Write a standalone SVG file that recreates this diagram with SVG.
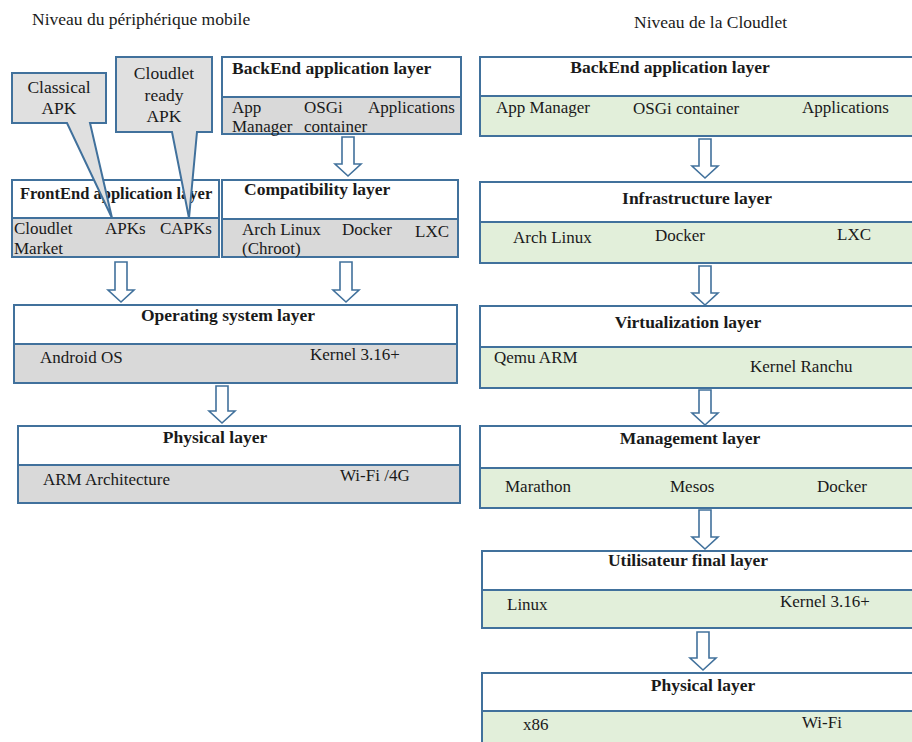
<svg xmlns="http://www.w3.org/2000/svg" width="912" height="742" viewBox="0 0 912 742">
<style>
  text { font-family: "Liberation Serif", "Times New Roman", serif; fill: #1a1a1a; }
  .t { font-size: 17px; }
  .b { font-size: 17.5px; font-weight: bold; }
  .hd { font-size: 17.5px; }
  .box { fill: #ffffff; stroke: #41719c; stroke-width: 2; }
  .gr { fill: #d9d9d9; stroke: #41719c; stroke-width: 2; }
  .gn { fill: #e2efda; stroke: #41719c; stroke-width: 2; }
  .arr { fill: #ffffff; stroke: #41719c; stroke-width: 1.6; }
  .call { fill: #e0e0e0; stroke: #41719c; stroke-width: 2; }
  .c { font-size: 17.5px; text-anchor: middle; }
</style>
<rect width="912" height="742" fill="#ffffff"/>
<text class="hd" x="32" y="25">Niveau du périphérique mobile</text>
<text class="hd" x="634" y="28">Niveau de la Cloudlet</text>

<!-- Left column -->
<g id="left-backend">
  <rect class="box" x="222" y="57" width="239" height="40"/>
  <rect class="gr" x="222" y="97" width="239" height="37"/>
  <text class="b" x="232" y="74">BackEnd application layer</text>
  <text class="t" x="232" y="113">App</text>
  <text class="t" x="232" y="132">Manager</text>
  <text class="t" x="304" y="113">OSGi</text>
  <text class="t" x="304" y="132">container</text>
  <text class="t" x="368" y="113">Applications</text>
</g>
<g id="left-frontend">
  <rect class="box" x="12" y="180" width="207" height="38"/>
  <rect class="gr" x="12" y="218" width="207" height="39"/>
  <text class="b" x="20" y="199" style="font-size:16.5px">FrontEnd application layer</text>
  <text class="t" x="14" y="234">Cloudlet</text>
  <text class="t" x="14" y="254">Market</text>
  <text class="t" x="105" y="234">APKs</text>
  <text class="t" x="160" y="234">CAPKs</text>
</g>
<g id="left-compat">
  <rect class="box" x="222" y="180" width="236" height="39"/>
  <rect class="gr" x="222" y="219" width="236" height="38"/>
  <text class="b" x="244" y="195">Compatibility layer</text>
  <text class="t" x="242" y="235">Arch Linux</text>
  <text class="t" x="242" y="254">(Chroot)</text>
  <text class="t" x="342" y="235">Docker</text>
  <text class="t" x="415" y="237">LXC</text>
</g>
<g id="callout-classical">
  <polygon class="call" points="12,73 106,73 106,123 90,123 112,218 67,123 12,123"/>
  <text class="c" x="59" y="93">Classical</text>
  <text class="c" x="59" y="114">APK</text>
</g>
<g id="callout-cloudlet">
  <polygon class="call" points="116,57 212,57 212,132 197,132 189,218 172,132 116,132"/>
  <text class="c" x="164" y="79">Cloudlet</text>
  <text class="c" x="164" y="101">ready</text>
  <text class="c" x="164" y="122">APK</text>
</g>
<g id="left-os">
  <rect class="box" x="14" y="305" width="443" height="39"/>
  <rect class="gr" x="14" y="344" width="443" height="39"/>
  <text class="b" x="228" y="321" text-anchor="middle">Operating system layer</text>
  <text class="t" x="40" y="363">Android OS</text>
  <text class="t" x="310" y="360">Kernel 3.16+</text>
</g>
<g id="left-physical">
  <rect class="box" x="18" y="426" width="442" height="39"/>
  <rect class="gr" x="18" y="465" width="442" height="38"/>
  <text class="b" x="215" y="443" text-anchor="middle">Physical layer</text>
  <text class="t" x="43" y="485">ARM Architecture</text>
  <text class="t" x="340" y="481">Wi-Fi /4G</text>
</g>

<!-- Right column -->
<g id="right-backend">
  <rect class="box" x="480" y="57" width="440" height="39"/>
  <rect class="gn" x="480" y="96" width="440" height="40"/>
  <text class="b" x="670" y="73" text-anchor="middle">BackEnd application layer</text>
  <text class="t" x="496" y="113">App Manager</text>
  <text class="t" x="633" y="114">OSGi container</text>
  <text class="t" x="802" y="113">Applications</text>
</g>
<g id="right-infra">
  <rect class="box" x="480" y="182" width="440" height="40"/>
  <rect class="gn" x="480" y="222" width="440" height="41"/>
  <text class="b" x="697" y="204" text-anchor="middle">Infrastructure layer</text>
  <text class="t" x="513" y="243">Arch Linux</text>
  <text class="t" x="655" y="241">Docker</text>
  <text class="t" x="837" y="240">LXC</text>
</g>
<g id="right-virt">
  <rect class="box" x="480" y="306" width="440" height="41"/>
  <rect class="gn" x="480" y="347" width="440" height="41"/>
  <text class="b" x="688" y="328" text-anchor="middle">Virtualization layer</text>
  <text class="t" x="494" y="363">Qemu ARM</text>
  <text class="t" x="750" y="372">Kernel Ranchu</text>
</g>
<g id="right-mgmt">
  <rect class="box" x="480" y="426" width="440" height="42"/>
  <rect class="gn" x="480" y="468" width="440" height="40"/>
  <text class="b" x="690" y="444" text-anchor="middle">Management layer</text>
  <text class="t" x="505" y="492">Marathon</text>
  <text class="t" x="670" y="492">Mesos</text>
  <text class="t" x="817" y="492">Docker</text>
</g>
<g id="right-user">
  <rect class="box" x="482" y="551" width="438" height="39"/>
  <rect class="gn" x="482" y="590" width="438" height="38"/>
  <text class="b" x="688" y="566" text-anchor="middle">Utilisateur final layer</text>
  <text class="t" x="507" y="610">Linux</text>
  <text class="t" x="780" y="607">Kernel 3.16+</text>
</g>
<g id="right-physical">
  <rect class="box" x="482" y="673" width="438" height="38"/>
  <rect class="gn" x="482" y="711" width="438" height="40"/>
  <text class="b" x="703" y="691" text-anchor="middle">Physical layer</text>
  <text class="t" x="523" y="730">x86</text>
  <text class="t" x="802" y="728">Wi-Fi</text>
</g>

<g id="connectors">
  <path class="arr" d="M342,137 H354 V164 H361 L348,176 L335,164 H342 Z"/>
  <path class="arr" d="M115,262 H127 V290 H134 L121,302 L108,290 H115 Z"/>
  <path class="arr" d="M340,262 H352 V290 H359 L346,302 L333,290 H340 Z"/>
  <path class="arr" d="M216,386 H228 V411 H235 L222,423 L209,411 H216 Z"/>
  <path class="arr" d="M699,139 H711 V166 H718 L705,178 L692,166 H699 Z"/>
  <path class="arr" d="M699,266 H711 V293 H718 L705,305 L692,293 H699 Z"/>
  <path class="arr" d="M699,390 H711 V413 H718 L705,425 L692,413 H699 Z"/>
  <path class="arr" d="M699,510 H711 V537 H718 L705,549 L692,537 H699 Z"/>
  <path class="arr" d="M697,632 H709 V658 H716 L703,670 L690,658 H697 Z"/>
</g>
</svg>
